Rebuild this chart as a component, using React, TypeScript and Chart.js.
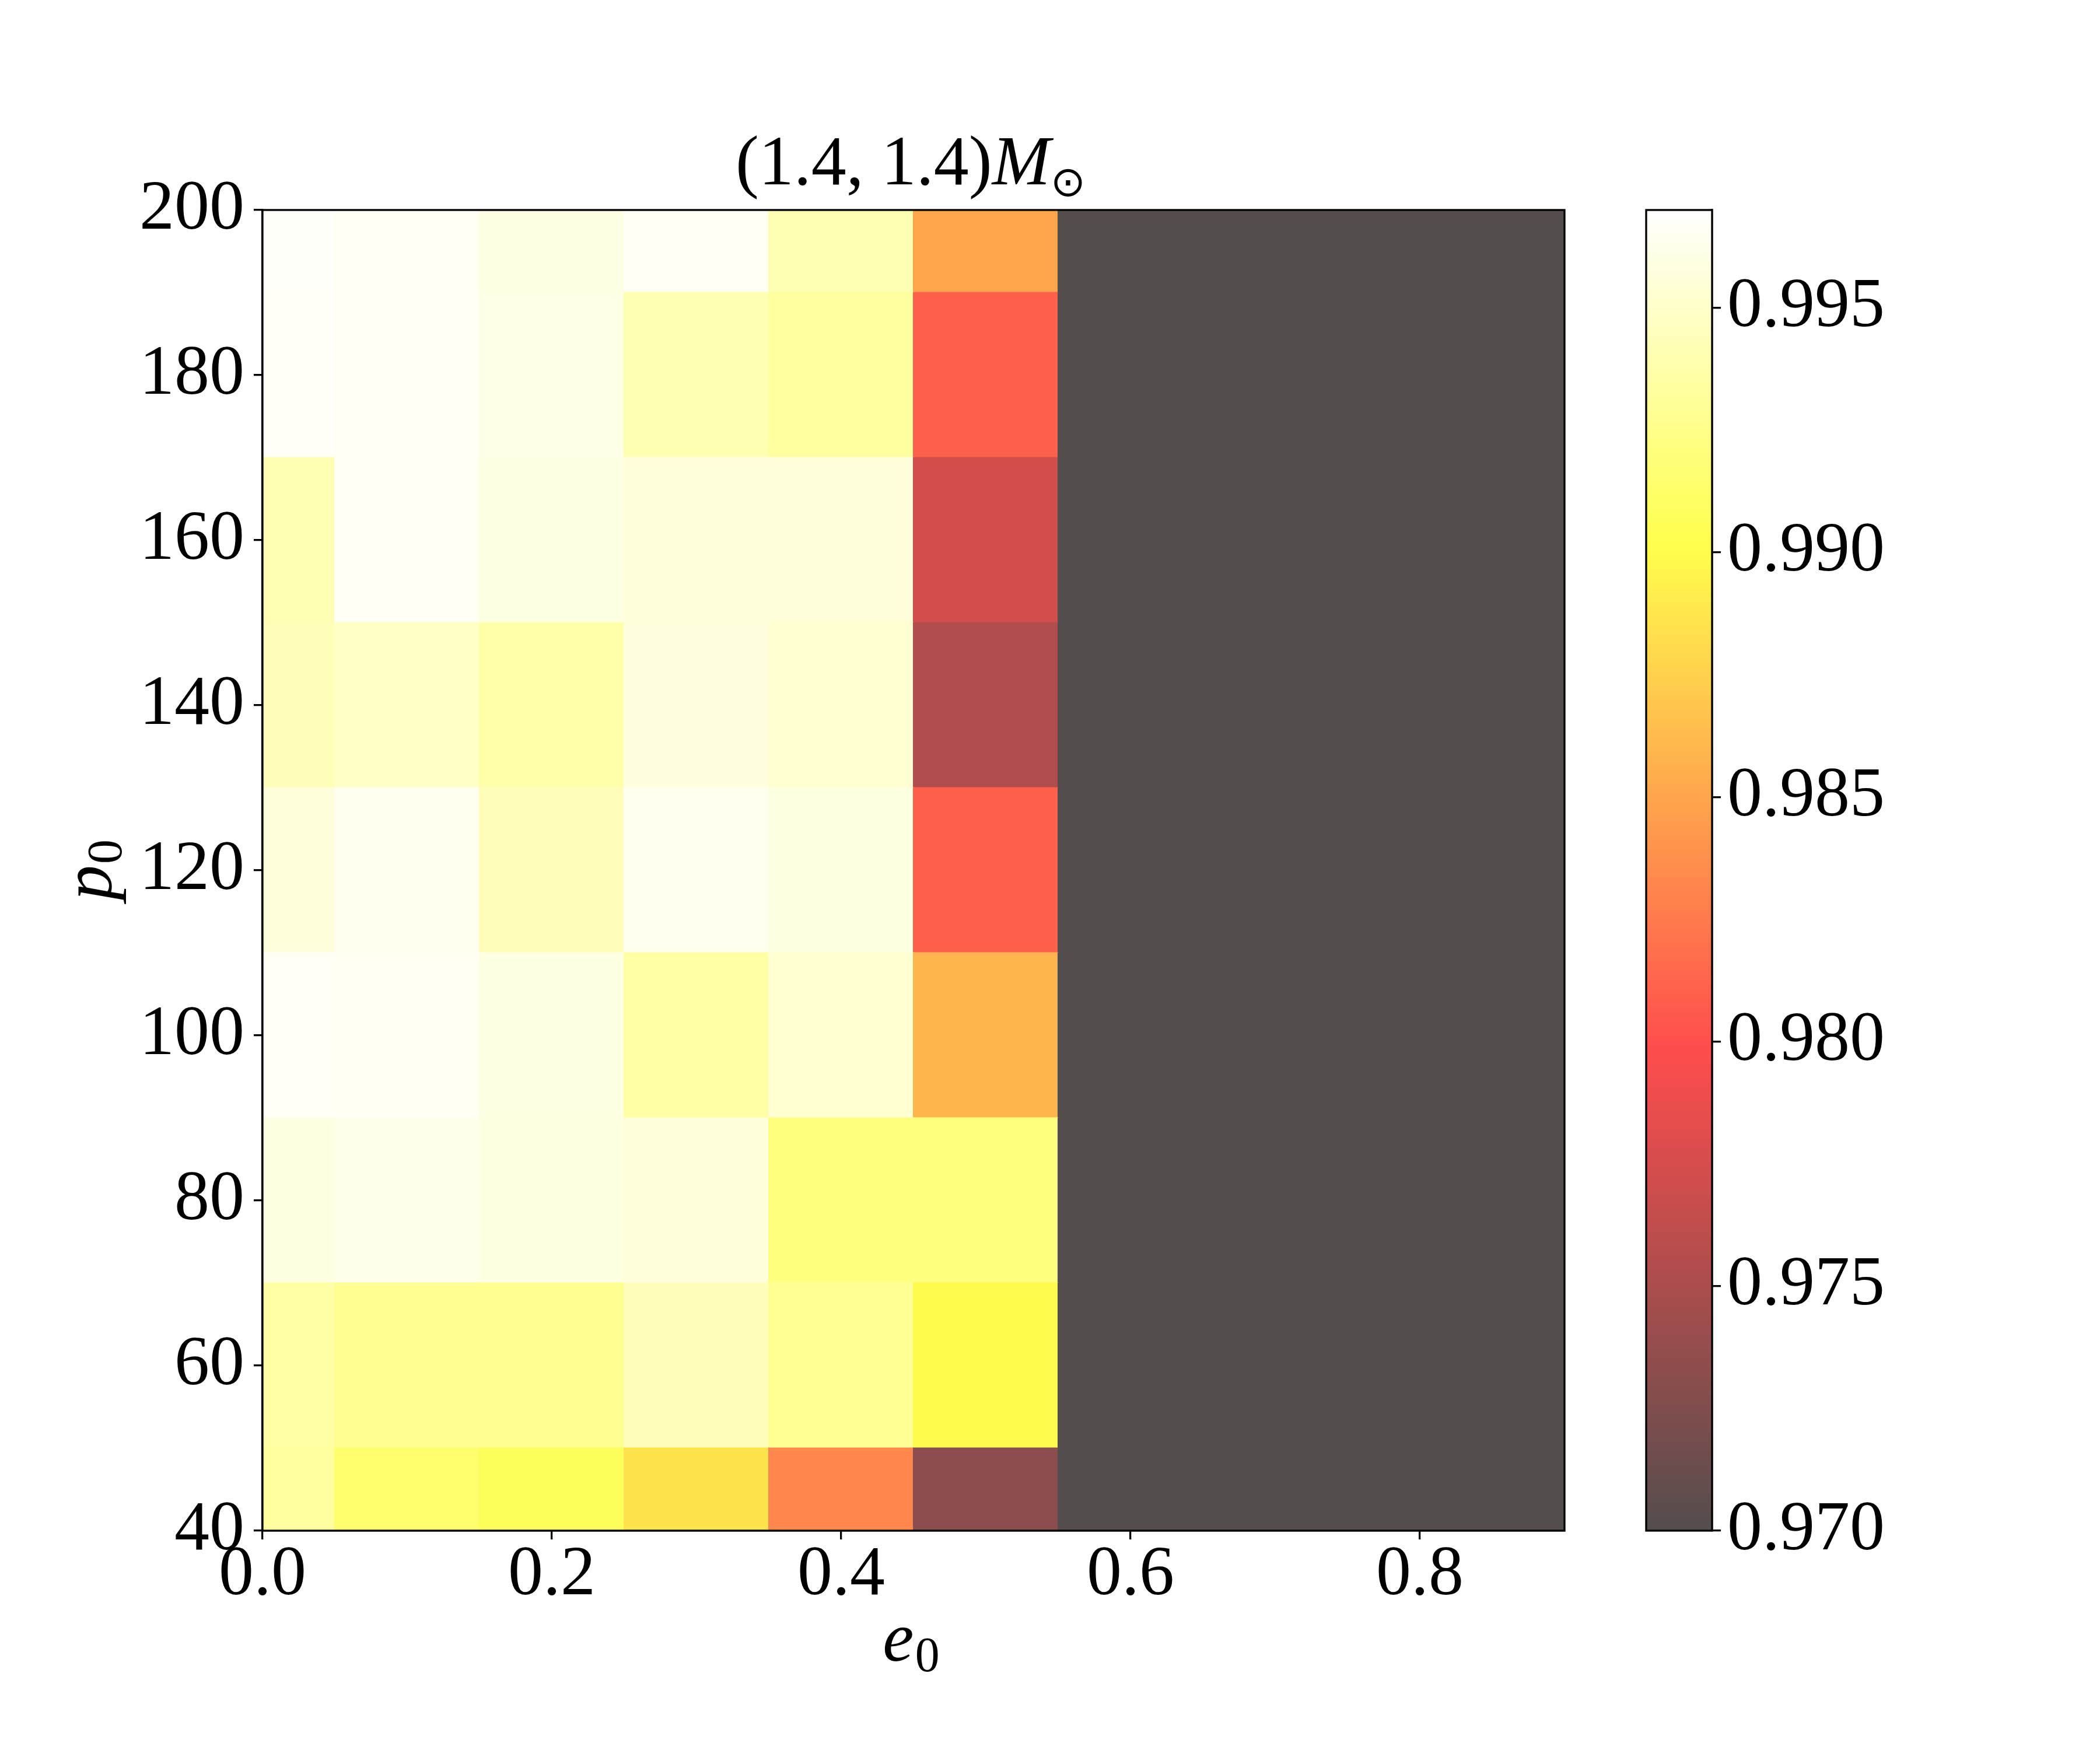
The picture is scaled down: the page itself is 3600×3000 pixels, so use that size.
import React, { useEffect, useRef } from 'react';
import { Chart, registerables } from 'chart.js';

Chart.register(...registerables);

// ---------------- data ----------------
const e0Values = [0.0, 0.1, 0.2, 0.3, 0.4, 0.5, 0.6, 0.7, 0.8, 0.9];
const p0Values = [40, 60, 80, 100, 120, 140, 160, 180, 200];

// match values per p0 row (columns follow e0Values)
const matchP40 = [0.99335, 0.99139, 0.99074, 0.98853, 0.98329, 0.97317, 0.970, 0.970, 0.970, 0.970];
const matchP60 = [0.99354, 0.99277, 0.99277, 0.99431, 0.99297, 0.98991, 0.970, 0.970, 0.970, 0.970];
const matchP80 = [0.99585, 0.99623, 0.99585, 0.99565, 0.99212, 0.99212, 0.970, 0.970, 0.970, 0.970];
const matchP100 = [0.99673, 0.99650, 0.99596, 0.99354, 0.99527, 0.98588, 0.970, 0.970, 0.970, 0.970];
const matchP120 = [0.99565, 0.99642, 0.99431, 0.99642, 0.99585, 0.98098, 0.970, 0.970, 0.970, 0.970];
const matchP140 = [0.99431, 0.99481, 0.99373, 0.99573, 0.99527, 0.97542, 0.970, 0.970, 0.970, 0.970];
const matchP160 = [0.99412, 0.99654, 0.99596, 0.99565, 0.99565, 0.97738, 0.970, 0.970, 0.970, 0.970];
const matchP180 = [0.99673, 0.99654, 0.99604, 0.99404, 0.99335, 0.98098, 0.970, 0.970, 0.970, 0.970];
const matchP200 = [0.99681, 0.99658, 0.99596, 0.99665, 0.99412, 0.98501, 0.970, 0.970, 0.970, 0.970];
const matchRows = [matchP40, matchP60, matchP80, matchP100, matchP120, matchP140, matchP160, matchP180, matchP200];

const xTickValues = [0.0, 0.2, 0.4, 0.6, 0.8];
const yTickValues = [40, 60, 80, 100, 120, 140, 160, 180, 200];
const cbarTickValues = [0.970, 0.975, 0.980, 0.985, 0.990, 0.995];

const colorMin = 0.970;
const colorMax = 0.997;
const xMin = 0.0;
const xMax = 0.9;
const yMin = 40;
const yMax = 200;

// ---------------- styling ----------------
const SERIF = '"Liberation Serif", "DejaVu Serif", serif';
const FONT_SIZE = 120;
const SUB_SIZE = 84;
const LINE_W = 3.3;
const CMAP_ALPHA = 0.7;

function hot(t: number): number[] {
  const a = 0.365079;
  const b = 0.746032;
  const r = t < a ? 0.0416 + (1 - 0.0416) * (t / a) : 1;
  const g = t < a ? 0 : t < b ? (t - a) / (b - a) : 1;
  const bl = t < b ? 0 : (t - b) / (1 - b);
  return [r, g, bl];
}

function cmapColor(t: number): string {
  const tt = Math.max(0, Math.min(1, t));
  const rgb = hot(tt).map((c) => Math.round((c * CMAP_ALPHA + (1 - CMAP_ALPHA)) * 255));
  return `rgb(${rgb[0]},${rgb[1]},${rgb[2]})`;
}

function valueColor(v: number): string {
  return cmapColor((v - colorMin) / (colorMax - colorMin));
}

// ---------------- plugins ----------------
const frameAndLabels = {
  id: 'frameAndLabels',
  afterDatasetsDraw(chart: any) {
    const { ctx, chartArea } = chart;
    ctx.save();
    ctx.strokeStyle = '#000';
    ctx.lineWidth = LINE_W;
    ctx.strokeRect(chartArea.left, chartArea.top, chartArea.right - chartArea.left, chartArea.bottom - chartArea.top);
    ctx.restore();
  },
  afterDraw(chart: any) {
    const { ctx, chartArea } = chart;
    const cx = (chartArea.left + chartArea.right) / 2 - 5;
    const cy = (chartArea.top + chartArea.bottom) / 2;
    ctx.save();
    ctx.fillStyle = '#000';
    ctx.textAlign = 'left';
    ctx.textBaseline = 'alphabetic';

    // title: (1.4, 1.4)M_sun
    const t1 = '(1.4, 1.4)';
    const t2 = 'M';
    const t3 = '\u2299';
    const f1 = `${FONT_SIZE}px ${SERIF}`;
    const f2 = `italic ${FONT_SIZE}px ${SERIF}`;
    const f3 = `72px "DejaVu Sans", sans-serif`;
    ctx.font = f1; const w1 = ctx.measureText(t1).width;
    ctx.font = f2; const w2 = ctx.measureText(t2).width;
    ctx.font = f3; const w3 = ctx.measureText(t3).width;
    const total = w1 + w2 + w3;
    let x = cx - total / 2;
    const tb = chartArea.top - 44;
    ctx.font = f1; ctx.fillText(t1, x, tb); x += w1;
    ctx.font = f2; ctx.fillText(t2, x, tb); x += w2;
    ctx.font = f3; ctx.fillText(t3, x, tb + 20);

    // x label: e_0
    const fe = `italic ${FONT_SIZE}px ${SERIF}`;
    const fs = `${SUB_SIZE}px ${SERIF}`;
    ctx.font = fe; const we = ctx.measureText('e').width;
    ctx.font = fs; const ws = ctx.measureText('0').width;
    const xb = chartArea.bottom + 223;
    let lx = cx - (we + ws) / 2;
    ctx.font = fe; ctx.fillText('e', lx, xb);
    ctx.font = fs; ctx.fillText('0', lx + we + 2, xb + 18);

    // y label: p_0 (rotated)
    ctx.font = fe; const wp = ctx.measureText('p').width;
    ctx.translate(190, cy);
    ctx.rotate(-Math.PI / 2);
    let ly = -(wp + ws) / 2;
    ctx.font = fe; ctx.fillText('p', ly, 0);
    ctx.font = fs; ctx.fillText('0', ly + wp + 2, 18);
    ctx.restore();
  },
};

const cbarOutline = {
  id: 'cbarOutline',
  afterDatasetsDraw(chart: any) {
    const { ctx, chartArea } = chart;
    ctx.save();
    ctx.strokeStyle = '#000';
    ctx.lineWidth = LINE_W;
    ctx.strokeRect(chartArea.left, chartArea.top, chartArea.right - chartArea.left, chartArea.bottom - chartArea.top);
    ctx.restore();
  },
};

const tickFont = { family: SERIF, size: FONT_SIZE, lineHeight: 1 };

function axisGrid() {
  return {
    display: true,
    drawOnChartArea: false,
    drawTicks: true,
    tickLength: 15,
    tickWidth: LINE_W,
    tickColor: '#000',
    color: '#000',
    lineWidth: LINE_W,
  };
}

export default function App() {
  const mainRef = useRef<HTMLCanvasElement | null>(null);
  const cbarRef = useRef<HTMLCanvasElement | null>(null);

  useEffect(() => {
    if (!mainRef.current || !cbarRef.current) return;
    const halfStep = (p0Values[1] - p0Values[0]) / 2;

    const datasets = p0Values.map((p0, i) => ({
      label: `p0=${p0}`,
      data: e0Values.map((e0) => ({ x: e0, y: [p0 - halfStep, p0 + halfStep] })),
      backgroundColor: matchRows[i].map((v) => valueColor(v)),
      borderWidth: 0,
      barPercentage: 1,
      categoryPercentage: 1,
      inflateAmount: 1,
      grouped: false,
      clip: 0,
    }));

    const main = new Chart(mainRef.current, {
      type: 'bar',
      data: { datasets } as any,
      options: {
        animation: false,
        responsive: false,
        maintainAspectRatio: false,
        devicePixelRatio: 1,
        events: [],
        layout: { padding: { left: 0, top: 360, right: 78, bottom: 76 } },
        plugins: { legend: { display: false }, tooltip: { enabled: false }, title: { display: false } },
        scales: {
          x: {
            type: 'linear',
            min: xMin,
            max: xMax,
            offset: false,
            afterBuildTicks: (scale: any) => { scale.ticks = xTickValues.map((v) => ({ value: v })); },
            afterFit: (scale: any) => { scale.height = 300; },
            ticks: {
              autoSkip: false,
              maxRotation: 0,
              minRotation: 0,
              padding: 2,
              color: '#000',
              font: tickFont,
              callback: (v: any) => Number(v).toFixed(1),
            },
            grid: { ...axisGrid(), offset: false },
            border: { display: true, color: '#000', width: LINE_W },
          },
          y: {
            type: 'linear',
            min: yMin,
            max: yMax,
            afterBuildTicks: (scale: any) => { scale.ticks = yTickValues.map((v) => ({ value: v })); },
            afterFit: (scale: any) => { scale.width = 450; },
            ticks: {
              autoSkip: false,
              padding: 16,
              color: '#000',
              font: tickFont,
              callback: (v: any) => String(v),
            },
            grid: axisGrid(),
            border: { display: true, color: '#000', width: LINE_W },
          },
        },
      } as any,
      plugins: [frameAndLabels],
    });

    const cbar = new Chart(cbarRef.current, {
      type: 'bar',
      data: {
        labels: ['match'],
        datasets: [
          {
            label: 'colorbar',
            data: [[colorMin, colorMax]],
            backgroundColor: (context: any) => {
              const chart = context.chart;
              if (!chart.chartArea) return 'rgba(0,0,0,0)';
              const ys = chart.scales.y;
              const y0 = ys.getPixelForValue(colorMin);
              const y1 = ys.getPixelForValue(colorMax);
              const g = chart.ctx.createLinearGradient(0, y0, 0, y1);
              const n = 128;
              for (let i = 0; i <= n; i++) g.addColorStop(i / n, cmapColor(i / n));
              return g;
            },
            borderWidth: 0,
            barPercentage: 1,
            categoryPercentage: 1,
            clip: 0,
          },
        ],
      } as any,
      options: {
        animation: false,
        responsive: false,
        maintainAspectRatio: false,
        devicePixelRatio: 1,
        events: [],
        layout: { padding: { left: 62, top: 360, right: 265, bottom: 376 } },
        plugins: { legend: { display: false }, tooltip: { enabled: false } },
        scales: {
          x: { display: false },
          y: {
            type: 'linear',
            position: 'right',
            min: colorMin,
            max: colorMax,
            afterBuildTicks: (scale: any) => { scale.ticks = cbarTickValues.map((v) => ({ value: v })); },
            afterFit: (scale: any) => { scale.width = 400; },
            ticks: {
              autoSkip: false,
              padding: 11,
              color: '#000',
              font: tickFont,
              callback: (v: any) => Number(v).toFixed(3),
            },
            grid: axisGrid(),
            border: { display: true, color: '#000', width: LINE_W },
          },
        },
      } as any,
      plugins: [cbarOutline],
    });

    return () => {
      main.destroy();
      cbar.destroy();
    };
  }, []);

  return (
    <div style={{ position: 'absolute', left: 0, top: 0, width: 3600, height: 3000, background: '#fff' }}>
      <canvas ref={mainRef} width={2760} height={3000} style={{ position: 'absolute', left: 0, top: 0 }} />
      <canvas ref={cbarRef} width={840} height={3000} style={{ position: 'absolute', left: 2760, top: 0 }} />
    </div>
  );
}
